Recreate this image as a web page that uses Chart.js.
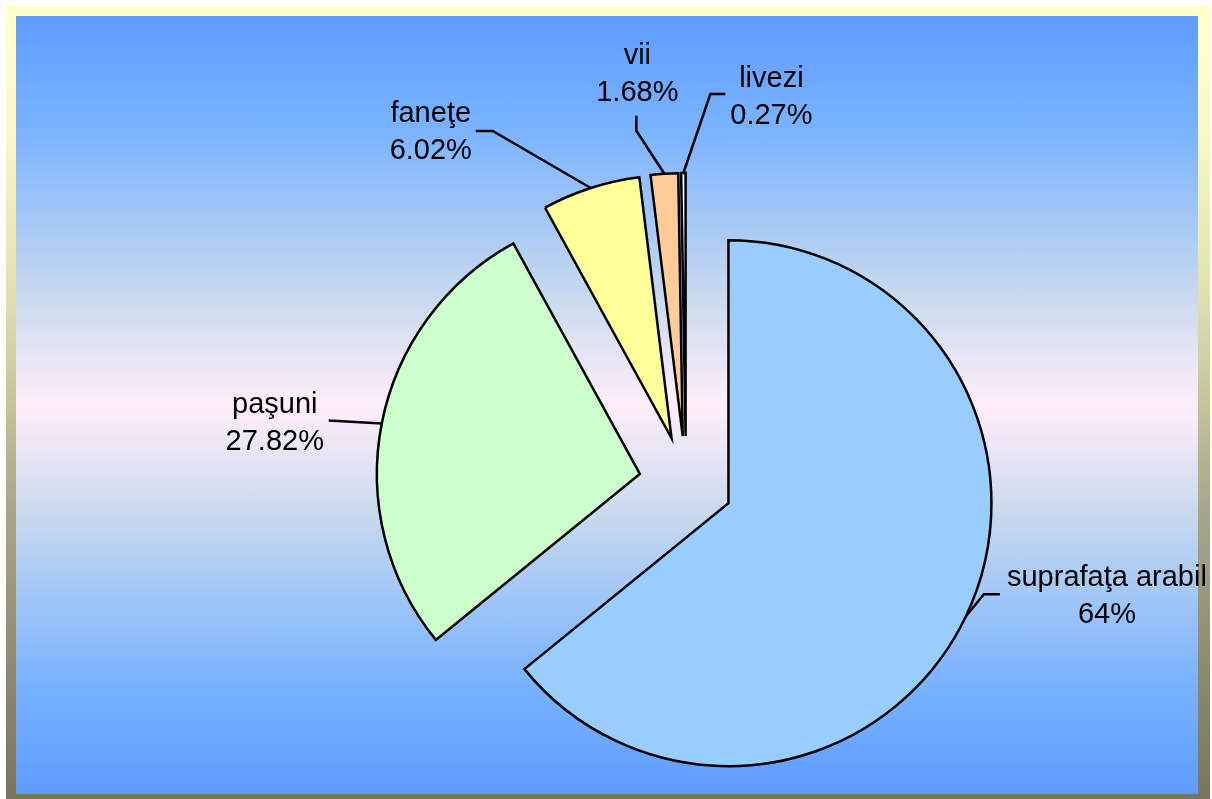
<!DOCTYPE html>
<html>
<head>
<meta charset="utf-8">
<script src="https://cdn.jsdelivr.net/npm/chart.js@4/dist/chart.umd.min.js"></script>
<style>
    body { margin: 0; background: #fff; overflow: hidden; }
    #frame {
        position: absolute; left: 6px; top: 5px; width: 1204px; height: 800px;
        background: linear-gradient(to bottom, #FFFFCC 0%, #FAF9C8 15%, #E0DFB0 37%, #A9A889 62%, #76745A 100%);
    }
    #plot {
        position: absolute; left: 16px; top: 16px; width: 1182px; height: 778px;
        background: linear-gradient(to bottom, #5E9CFF 0%, #78B2FF 14%, #CADAEE 36.5%, #FFEEFA 50%,
            #CADAEE 63.5%, #78B2FF 86%, #5E9CFF 100%);
    }
    #wrap { position: absolute; left: 0; top: 0; width: 1212px; height: 799px; }
</style>
</head>
<body>
<div id="frame"></div>
<div id="plot"></div>
<div id="wrap"><canvas id="pie-chart" width="1212" height="799"></canvas></div>
<script>
// data (percent of total land)
const categories = ['suprafaţa arabil', 'paşuni', 'faneţe', 'vii', 'livezi'];
const values = [64, 27.82, 6.02, 1.68, 0.27];
const sliceColors = ['#99CCFF', '#CCFFCC', '#FFFF99', '#FFCC99', '#FFFFFF'];

// label layout, relative to the point where the leader meets the slice edge
// [elbow dx, elbow dy, end dx, end dy, text dx, text dy]
const labelLayout = [
    [18, -22, 34, -22, 141, -30],
    [-53, -3, -53, -3, -107, -10],
    [-98, -57, -115, -57, -160, -66],
    [-28, -43, -28, -58, -27, -110],
    [27, -79, 42, -79, 88, -86]
];

const EXPLODE = 47;
const FONT = '29px "Liberation Sans", Arial, sans-serif';

// pulls every slice away from the centre along its middle angle
const explodePlugin = {
    id: 'explode',
    afterDatasetUpdate(chart, args) {
        args.meta.data.forEach(el => {
            const mid = (el.startAngle + el.endAngle) / 2;
            el.x += Math.cos(mid) * EXPLODE;
            el.y += Math.sin(mid) * EXPLODE;
        });
    }
};

// Excel-like labels: name on one line, percent below, leader line to the slice
const labelPlugin = {
    id: 'sliceLabels',
    afterDatasetsDraw(chart) {
        const ctx = chart.ctx;
        const meta = chart.getDatasetMeta(0);
        ctx.save();
        ctx.font = FONT;
        ctx.fillStyle = '#000';
        ctx.strokeStyle = '#000';
        ctx.lineWidth = 2.5;
        ctx.textAlign = 'center';
        ctx.textBaseline = 'alphabetic';
        meta.data.forEach((el, i) => {
            const mid = (el.startAngle + el.endAngle) / 2;
            const ex = el.x + Math.cos(mid) * el.outerRadius;
            const ey = el.y + Math.sin(mid) * el.outerRadius;
            const l = labelLayout[i];
            ctx.beginPath();
            ctx.moveTo(ex, ey);
            ctx.lineTo(ex + l[0], ey + l[1]);
            ctx.lineTo(ex + l[2], ey + l[3]);
            ctx.stroke();
            ctx.fillText(categories[i], ex + l[4], ey + l[5]);
            ctx.fillText(values[i] + '%', ex + l[4], ey + l[5] + 37);
        });
        ctx.restore();
    }
};

new Chart(document.getElementById('pie-chart'), {
    type: 'pie',
    data: {
        labels: categories,
        datasets: [{
            data: values,
            backgroundColor: sliceColors,
            borderColor: '#000',
            borderWidth: 2.5,
            borderJoinStyle: 'miter'
        }]
    },
    options: {
        responsive: false,
        animation: false,
        devicePixelRatio: 1,
        radius: 263,
        layout: { padding: { left: 160, right: 0, top: 167, bottom: 0 } },
        plugins: {
            legend: { display: false },
            tooltip: { enabled: false }
        }
    },
    plugins: [explodePlugin, labelPlugin]
});
</script>
</body>
</html>
